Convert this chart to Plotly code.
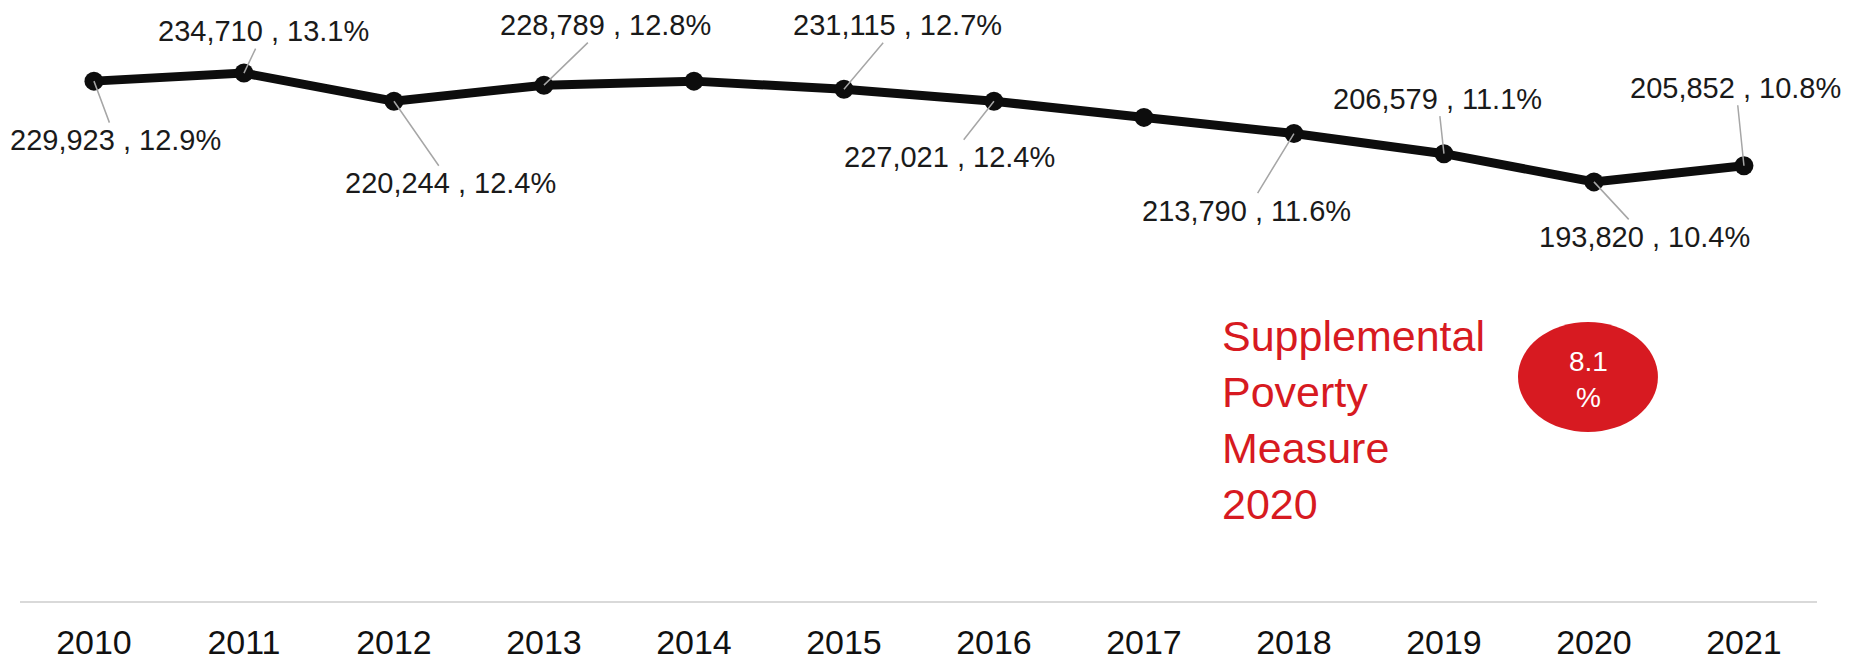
import plotly.graph_objects as go

years = [2010, 2011, 2012, 2013, 2014, 2015, 2016, 2017, 2018, 2019, 2020, 2021]
counts = [229923, 234710, 220244, 228789, None, 231115, 227021, None, 213790, 206579, 193820, 205852]
pct = [12.9, 13.1, 12.4, 12.8, 12.9, 12.7, 12.4, 12.0, 11.6, 11.1, 10.4, 10.8]
# label offsets (pixels) from each point to its label
label_dx = [22, 20, 57, 62, None, 54, -44, None, -47, -6, 51, -8]
label_dy = [59, -42, 82, -60, None, -64, 56, None, 77, -55, 55, -78]

spm_title = "Supplemental<br>Poverty<br>Measure<br>2020"
spm_value = "8.1<br>%"

RED = "#d71a21"
FONT = "Liberation Sans, Arial, sans-serif"

fig = go.Figure()
fig.add_trace(go.Scatter(
    x=years, y=pct, mode="lines+markers",
    line=dict(color="#0d0d0d", width=9),
    marker=dict(color="#0d0d0d", size=19),
    hoverinfo="skip", showlegend=False,
))

annotations = []
for yr, c, p, dx, dy in zip(years, counts, pct, label_dx, label_dy):
    if c is None:
        continue
    annotations.append(dict(
        x=yr, y=p, xref="x", yref="y",
        text=f"{c:,} , {p}%",
        showarrow=True, arrowhead=0, arrowwidth=1.5, arrowcolor="#a6a6a6",
        ax=dx, ay=dy, standoff=0,
        font=dict(family=FONT, size=29, color="#1a1a1a"),
    ))

annotations.append(dict(
    x=0.6678, y=0.3115, xref="paper", yref="paper",
    xanchor="left", yanchor="middle", align="left",
    text=spm_title, showarrow=False,
    font=dict(family=FONT, size=43, color=RED),
))
annotations.append(dict(
    x=0.8726, y=0.382, xref="paper", yref="paper",
    xanchor="center", yanchor="middle", align="center",
    text=spm_value, showarrow=False,
    font=dict(family=FONT, size=28, color="white"),
))

fig.add_shape(type="circle", xref="paper", yref="paper",
              x0=0.8336, x1=0.9115, y0=0.2909, y1=0.4802,
              fillcolor=RED, line=dict(width=0), layer="below")

fig.update_layout(
    width=1842, height=660,
    margin=dict(l=12, r=33, t=12, b=67),
    paper_bgcolor="white", plot_bgcolor="white",
    annotations=annotations,
    xaxis=dict(
        range=[2009.507, 2021.487],
        tickvals=years, ticktext=[str(y) for y in years],
        showgrid=False, zeroline=False,
        showline=True, linecolor="#d9d9d9", linewidth=2,
        ticks="", ticklabelstandoff=10, automargin=False,
        tickfont=dict(family=FONT, size=34, color="#111111"),
        fixedrange=True,
    ),
    yaxis=dict(range=[0, 14.417], visible=False, automargin=False, fixedrange=True),
)

fig.write_html("out.html", config={"displayModeBar": False})
